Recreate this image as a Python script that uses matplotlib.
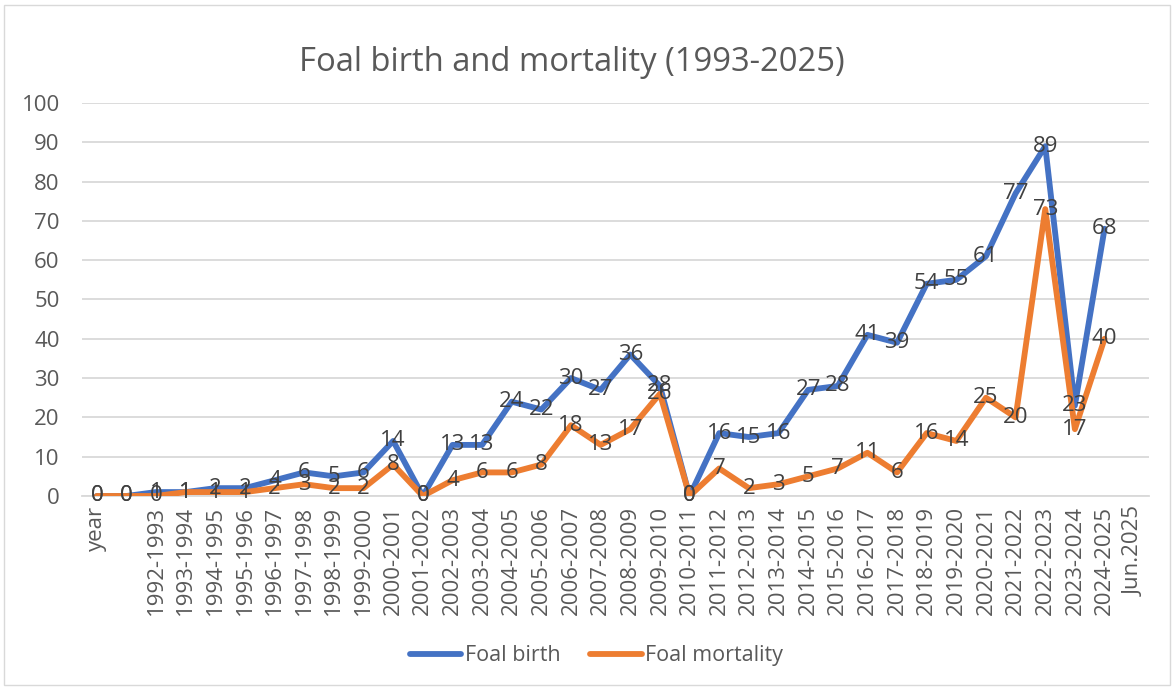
import numpy as np
import matplotlib
matplotlib.use("Agg")
import matplotlib.pyplot as plt
from matplotlib.patches import Rectangle

categories = ["year", "", "1992-1993", "1993-1994", "1994-1995", "1995-1996", "1996-1997",
              "1997-1998", "1998-1999", "1999-2000", "2000-2001", "2001-2002", "2002-2003",
              "2003-2004", "2004-2005", "2005-2006", "2006-2007", "2007-2008", "2008-2009",
              "2009-2010", "2010-2011", "2011-2012", "2012-2013", "2013-2014", "2014-2015",
              "2015-2016", "2016-2017", "2017-2018", "2018-2019", "2019-2020", "2020-2021",
              "2021-2022", "2022-2023", "2023-2024", "2024-2025", "Jun.2025"]
foal_birth = [0, 0, 1, 1, 2, 2, 4, 6, 5, 6, 14, 0, 13, 13, 24, 22, 30, 27, 36, 28,
              0, 16, 15, 16, 27, 28, 41, 39, 54, 55, 61, 77, 89, 23, 68, None]
foal_mortality = [0, 0, 0, 1, 1, 1, 2, 3, 2, 2, 8, 0, 4, 6, 6, 8, 18, 13, 17, 26,
                  0, 7, 2, 3, 5, 7, 11, 6, 16, 14, 25, 20, 73, 17, 40, None]
series_names = ["Foal birth", "Foal mortality"]
colors = ["#4472C4", "#ED7D31"]
title = "Foal birth and mortality (1993-2025)"

plt.rcParams['font.family'] = ['Open Sans', 'DejaVu Sans']
text_gray = "#595959"
label_gray = "#404040"

fig = plt.figure(figsize=(11.74, 6.91), dpi=100)
ax = fig.add_axes([0.0698, 0.2822, 0.9089, 0.5688])

x = np.arange(len(categories))
for vals, name, c in zip([foal_birth, foal_mortality], series_names, colors):
    y = np.array([np.nan if v is None else v for v in vals], dtype=float)
    ax.plot(x, y, color=c, lw=4.2, solid_capstyle='round', solid_joinstyle='round',
            label=name, zorder=3)
for vals in [foal_birth, foal_mortality]:
    for xi, v in zip(x, vals):
        if v is None:
            continue
        ax.text(xi, v, str(v), ha='center', va='center', fontsize=16,
                color=label_gray, zorder=5)

ax.set_xlim(-0.5, len(categories) - 0.5)
ax.set_ylim(0, 100)
ax.set_yticks(np.arange(0, 101, 10))
ax.yaxis.grid(True, color="#D9D9D9", lw=1.3, zorder=0)
ax.set_axisbelow(True)
ax.set_xticks(x)
ax.set_xticklabels(categories, rotation=90, fontsize=16, color=text_gray)
ax.tick_params(axis='y', labelsize=16, labelcolor=text_gray, length=0, pad=16)
ax.tick_params(axis='x', length=0, pad=7)
for s in ["top", "right", "left"]:
    ax.spines[s].set_visible(False)
ax.spines["bottom"].set_color("#D9D9D9")
ax.spines["bottom"].set_linewidth(1.3)

fig.text(0.487, 0.91, title, ha='center', va='center', fontsize=23.6, color=text_gray)

leg = fig.legend(loc='center', bbox_to_anchor=(0.508, 0.051), ncol=2, frameon=False,
                 fontsize=15.5, handlelength=2.4, columnspacing=1.4, handletextpad=0.15)
for t in leg.get_texts():
    t.set_color(text_gray)
for h in leg.get_lines():
    h.set_linewidth(4.2)

fig.patches.append(Rectangle((0.003, 0.008), 0.994, 0.985, transform=fig.transFigure,
                             fill=False, edgecolor="#D9D9D9", lw=1.0))

fig.savefig("out.png", dpi=100)
